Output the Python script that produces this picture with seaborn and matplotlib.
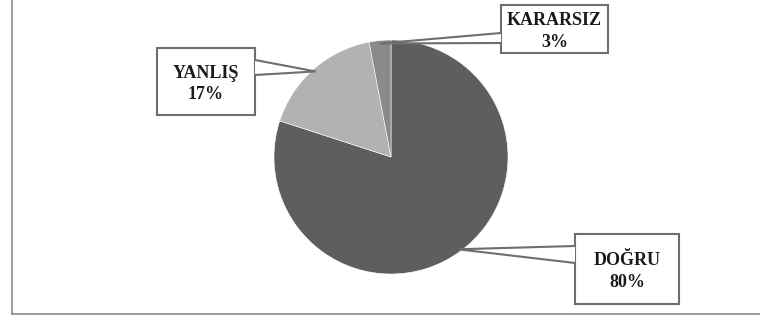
import numpy as np
import matplotlib
matplotlib.use("Agg")
import matplotlib.pyplot as plt
from matplotlib.patches import Rectangle, Polygon
import seaborn as sns

# Data
categories = ["DOĞRU", "YANLIŞ", "KARARSIZ"]
values = [80, 17, 3]
pct_labels = ["80%", "17%", "3%"]

sns.set_theme(style="white")
plt.rcParams['font.family'] = ['Liberation Serif', 'DejaVu Serif']

colors = ["#5e5e5e", "#b2b2b2", "#8a8a8a"]

W, H = 760, 318
fig = plt.figure(figsize=(W / 100, H / 100), dpi=100)
fig.patch.set_facecolor("white")
x0, y0 = 12, 4
ax = fig.add_axes([x0 / W, y0 / H, (W - x0) / W, (H - y0) / H])

cx, cy, r = 391, 318 - 157, 117
wedges, _ = ax.pie(values, colors=colors, startangle=90, counterclock=False,
                   center=(cx, cy), radius=r, frame=True,
                   wedgeprops=dict(edgecolor="white", linewidth=0.4))

ax.set_xlim(x0, W)
ax.set_ylim(y0, H)
ax.set_aspect("equal")
ax.set_xticks([])
ax.set_yticks([])
for s in ["top", "right"]:
    ax.spines[s].set_visible(False)
for s in ["left", "bottom"]:
    ax.spines[s].set_color("#8c8c8c")
    ax.spines[s].set_linewidth(1.2)

# Callout layout (image pixel coords, y downward): box x0, y0, x1, y1, base points
layout = {
    "KARARSIZ": dict(box=(501, 5, 608, 53), base=[(501, 33), (501, 43)]),
    "YANLIŞ": dict(box=(157, 48, 255, 115), base=[(255, 60), (255, 75)]),
    "DOĞRU": dict(box=(575, 234, 679, 304), base=[(575, 246), (575, 263)]),
}
edge = "#6e6e6e"
for w, cat, pct in zip(wedges, categories, pct_labels):
    L = layout[cat]
    bx0, by0, bx1, by1 = L["box"]
    rect = Rectangle((bx0, H - by1), bx1 - bx0, by1 - by0, facecolor="white",
                     edgecolor=edge, linewidth=1.5, zorder=5)
    ax.add_patch(rect)
    mid = np.deg2rad((w.theta1 + w.theta2) / 2)
    tip = (cx + 0.975 * r * np.cos(mid), cy + 0.975 * r * np.sin(mid))
    (ax1, ay1), (ax2, ay2) = L["base"]
    p1 = (ax1, H - ay1)
    p2 = (ax2, H - ay2)
    tri = Polygon([p1, tip, p2], closed=True, facecolor="white", edgecolor="none", zorder=6)
    ax.add_patch(tri)
    ax.plot([p1[0], tip[0], p2[0]], [p1[1], tip[1], p2[1]], color=edge, lw=1.5,
            zorder=7, solid_joinstyle="miter")
    ax.text((bx0 + bx1) / 2, H - (by0 + by1) / 2 - 2.5, f"{cat}\n{pct}", ha="center",
            va="center", fontsize=13, fontweight="bold", color="#1a1a1a",
            linespacing=1.32, zorder=8)

fig.savefig("out.png", dpi=100, facecolor="white")
